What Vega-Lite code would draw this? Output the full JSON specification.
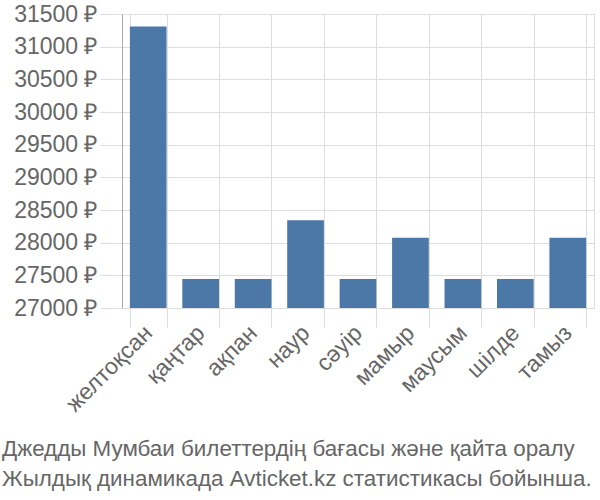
{
  "$schema": "https://vega.github.io/schema/vega-lite/v6.json",
  "autosize": "none",
  "width": 472,
  "height": 294,
  "padding": {"left": 122, "top": 14, "right": 6, "bottom": 192},
  "background": "white",
  "data": {"values": [
    {"month": "желтоқсан", "price": 31310},
    {"month": "қаңтар", "price": 27445},
    {"month": "ақпан", "price": 27445},
    {"month": "наур", "price": 28345},
    {"month": "сәуір", "price": 27445},
    {"month": "мамыр", "price": 28075},
    {"month": "маусым", "price": 27445},
    {"month": "шілде", "price": 27445},
    {"month": "тамыз", "price": 28075}
  ]},
  "mark": {"type": "bar", "color": "#4c78a8", "clip": true},
  "encoding": {
    "x": {
      "field": "month", "type": "nominal", "sort": null,
      "scale": {"paddingInner": 0.3, "paddingOuter": 0.15},
      "axis": {
        "title": null, "labelAngle": -45, "labelAlign": "right", "labelBaseline": "middle",
        "labelFont": "Liberation Sans", "labelFontSize": 23, "labelColor": "#666666",
        "labelOverlap": false, "labelBound": false,
        "tickBand": "extent", "grid": true, "gridColor": "#dddddd",
        "tickColor": "#dddddd", "tickSize": 19, "domain": false, "labelPadding": 2
      }
    },
    "y": {
      "field": "price", "type": "quantitative",
      "scale": {"domain": [27000, 31500], "zero": false, "nice": false},
      "axis": {
        "title": null, "values": [27000, 27500, 28000, 28500, 29000, 29500, 30000, 30500, 31000, 31500],
        "labelExpr": "datum.value + ' ₽'", "labelOverlap": false,
        "labelFont": "Liberation Sans", "labelFontSize": 23, "labelColor": "#666666",
        "grid": true, "gridColor": "#dddddd", "tickColor": "#dddddd", "tickSize": 22,
        "labelPadding": 3, "domain": true, "domainColor": "#aaaaaa"
      }
    }
  },
  "config": {"view": {"stroke": "#dddddd"}},
  "title": {
    "text": ["Джедды Мумбаи билеттердің бағасы және қайта оралу", "Жылдық динамикада Avticket.kz статистикасы бойынша."],
    "orient": "bottom", "anchor": "start", "frame": "group",
    "font": "Liberation Sans", "fontSize": 22.4, "fontWeight": "normal", "color": "#666666",
    "lineHeight": 30, "offset": 22, "dx": -120
  }
}
